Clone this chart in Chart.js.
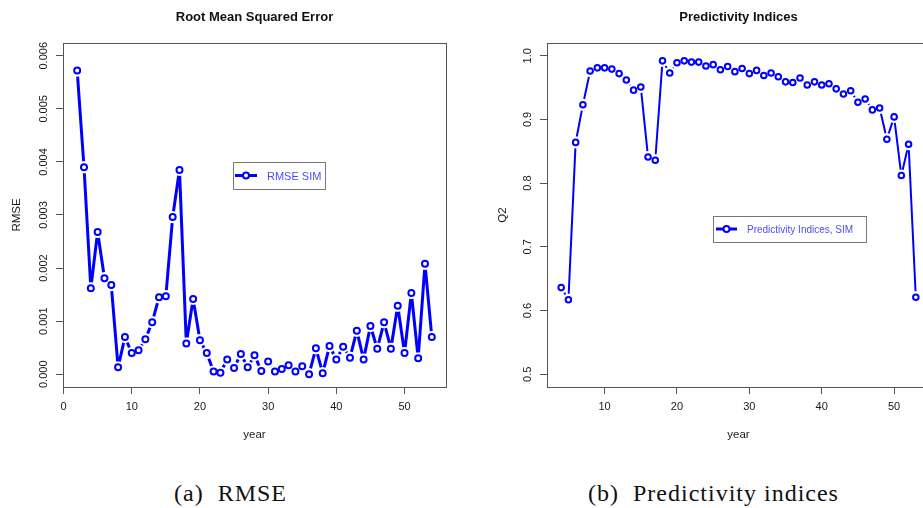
<!DOCTYPE html>
<html>
<head>
<meta charset="utf-8">
<script src="https://cdn.jsdelivr.net/npm/chart.js@4.4.0/dist/chart.umd.min.js"></script>
<style>
  html, body { margin: 0; padding: 0; background: #fff; overflow: hidden; }
  #wrap { position: relative; width: 923px; height: 508px; overflow: hidden; }
  canvas { position: absolute; top: 0; }
  #rmseChart { left: 0; }
  #q2Chart { left: 461px; }
  .cap {
    position: absolute;
    font-family: "Liberation Serif", serif;
    font-size: 24px;
    line-height: 24px;
    color: #111;
    letter-spacing: 1px;
    white-space: nowrap;
  }
</style>
</head>
<body>
<div id="wrap">
  <canvas id="rmseChart" width="461" height="450"></canvas>
  <canvas id="q2Chart" width="480" height="450"></canvas>
  <div class="cap" style="left:174px; top:481px;">(a)&nbsp;&nbsp;RMSE</div>
  <div class="cap" style="left:588px; top:481px;">(b)&nbsp;&nbsp;Predictivity indices</div>
</div>
<script>
// RMSE per year
const rmseYears = [2, 3, 4, 5, 6, 7, 8, 9, 10, 11, 12, 13, 14, 15, 16, 17, 18, 19, 20, 21,
  22, 23, 24, 25, 26, 27, 28, 29, 30, 31, 32, 33, 34, 35, 36, 37, 38, 39, 40, 41,
  42, 43, 44, 45, 46, 47, 48, 49, 50, 51, 52, 53, 54];
const rmseValues = [0.00572, 0.0039, 0.00162, 0.00268, 0.00181, 0.00168, 0.00013, 0.0007,
  0.0004, 0.00045, 0.00066, 0.00098, 0.00145, 0.00147, 0.00296, 0.00385, 0.00058, 0.00142,
  0.00064, 0.0004, 0.00005, 0.00003, 0.00028, 0.00012, 0.00038, 0.00013, 0.00036, 0.00006,
  0.00024, 0.00005, 0.0001, 0.00017, 0.00005, 0.00015, 0.0, 0.00049, 0.00002, 0.00053,
  0.00028, 0.00052, 0.00031, 0.00082, 0.00028, 0.00091, 0.00048, 0.00098, 0.00048, 0.00129,
  0.0004, 0.00153, 0.0003, 0.00208, 0.0007];
const rmseXTicks = [0, 10, 20, 30, 40, 50];
const rmseYTicks = [0, 0.001, 0.002, 0.003, 0.004, 0.005, 0.006];

// Q2 per year
const q2Years = [4, 5, 6, 7, 8, 9, 10, 11, 12, 13, 14, 15, 16, 17, 18, 19, 20, 21, 22, 23,
  24, 25, 26, 27, 28, 29, 30, 31, 32, 33, 34, 35, 36, 37, 38, 39, 40, 41, 42, 43,
  44, 45, 46, 47, 48, 49, 50, 51, 52, 53];
const q2Values = [0.636, 0.617, 0.864, 0.923, 0.976, 0.981, 0.981, 0.979, 0.972, 0.962,
  0.946, 0.951, 0.841, 0.836, 0.992, 0.973, 0.989, 0.992, 0.99, 0.99,
  0.984, 0.986, 0.978, 0.983, 0.975, 0.98, 0.972, 0.977, 0.969, 0.973,
  0.967, 0.959, 0.958, 0.965, 0.954, 0.959, 0.954, 0.956, 0.948, 0.94,
  0.945, 0.927, 0.932, 0.915, 0.918, 0.869, 0.904, 0.812, 0.861, 0.621];
const q2XTicks = [10, 20, 30, 40, 50];
const q2YTicks = [0.5, 0.6, 0.7, 0.8, 0.9, 1.0];

const BLUE = "#0000ff";
const AXIS = "#555";
const TEXT = "#1a1a1a";

Chart.defaults.font.family = "'Liberation Sans', Arial, sans-serif";
Chart.defaults.color = TEXT;

// R style type="b": line segments stop short of each point
const gapLine = {
  id: "gapLine",
  beforeDatasetDraw(chart, args, opts) {
    const pts = args.meta.data;
    const ctx = chart.ctx;
    ctx.save();
    ctx.strokeStyle = BLUE;
    ctx.lineWidth = opts.width;
    ctx.beginPath();
    for (let i = 1; i < pts.length; i++) {
      const a = pts[i - 1], b = pts[i];
      const dx = b.x - a.x, dy = b.y - a.y;
      const len = Math.hypot(dx, dy);
      if (len <= 2 * opts.gap) continue;
      const ux = dx / len, uy = dy / len;
      ctx.moveTo(a.x + ux * opts.gap, a.y + uy * opts.gap);
      ctx.lineTo(b.x - ux * opts.gap, b.y - uy * opts.gap);
    }
    ctx.stroke();
    ctx.restore();
  },
};

const boxPlot = {
  id: "boxPlot",
  afterDatasetsDraw(chart) {
    const { ctx, chartArea: a } = chart;
    ctx.save();
    ctx.strokeStyle = AXIS;
    ctx.lineWidth = 1;
    ctx.strokeRect(Math.round(a.left) + 0.5, Math.round(a.top) + 0.5,
      Math.round(a.right - a.left), Math.round(a.bottom - a.top));
    ctx.restore();
  },
};

const boxLegend = {
  id: "boxLegend",
  afterDraw(chart, args, o) {
    const ctx = chart.ctx;
    ctx.save();
    ctx.strokeStyle = "#777";
    ctx.lineWidth = 1;
    ctx.strokeRect(o.x + 0.5, o.y + 0.5, o.w, o.h);
    const cy = o.y + o.h / 2;
    ctx.strokeStyle = BLUE;
    ctx.lineWidth = o.lineWidth;
    ctx.beginPath();
    ctx.moveTo(o.x + o.lineFrom, cy);
    ctx.lineTo(o.x + o.lineTo, cy);
    ctx.stroke();
    ctx.lineWidth = 2;
    ctx.fillStyle = "#fff";
    ctx.beginPath();
    ctx.arc(o.x + (o.lineFrom + o.lineTo) / 2, cy, 3, 0, Math.PI * 2);
    ctx.fill();
    ctx.stroke();
    ctx.fillStyle = "#4d4dff";
    ctx.font = o.fontSize + "px 'Liberation Sans', Arial, sans-serif";
    ctx.textBaseline = "middle";
    ctx.fillText(o.text, o.x + o.textX, cy + 1);
    ctx.restore();
  },
};

function toPoints(xs, ys) {
  return xs.map((x, i) => ({ x: x, y: ys[i] }));
}

function makeChart(id, cfg) {
  return new Chart(document.getElementById(id), {
    type: "scatter",
    data: {
      datasets: [
        {
          data: toPoints(cfg.xs, cfg.ys),
          showLine: false,
          pointRadius: cfg.pointRadius,
          pointBorderWidth: 2,
          pointBorderColor: BLUE,
          pointBackgroundColor: "rgba(255,255,255,0)",
        },
      ],
    },
    options: {
      responsive: false,
      animation: false,
      events: [],
      layout: { padding: { left: cfg.padLeft, right: cfg.padRight, top: 0, bottom: 0 } },
      plugins: {
        legend: { display: false },
        tooltip: { enabled: false },
        title: {
          display: true,
          text: cfg.title,
          fullSize: false,
          color: "#111",
          font: { size: 13, weight: "bold" },
          padding: { top: 10, bottom: 17.4 },
        },
        gapLine: { width: cfg.lineWidth, gap: 6 },
        boxLegend: cfg.legend,
      },
      scales: {
        x: {
          type: "linear",
          min: cfg.xMin,
          max: cfg.xMax,
          afterBuildTicks: (s) => { s.ticks = cfg.xTicks.map((v) => ({ value: v })); },
          afterFit: (s) => { s.height = 63; },
          border: { display: false },
          grid: { drawOnChartArea: false, drawTicks: true, tickLength: 7, color: AXIS },
          ticks: { font: { size: 11 }, color: TEXT, padding: 6, maxRotation: 0, callback: (v) => String(v) },
          title: { display: true, text: "year", color: TEXT, font: { size: 11.5 }, padding: { top: 0, bottom: 8 } },
        },
        y: {
          type: "linear",
          min: cfg.yMin,
          max: cfg.yMax,
          afterBuildTicks: (s) => { s.ticks = cfg.yTicks.map((v) => ({ value: v })); },
          afterFit: (s) => { s.width = cfg.yWidth; },
          border: { display: false },
          grid: { drawOnChartArea: false, drawTicks: true, tickLength: 7, color: AXIS },
          ticks: {
            font: { size: 11 },
            color: TEXT,
            minRotation: 90,
            maxRotation: 90,
            crossAlign: "center",
            padding: cfg.yTickPad,
            callback: (v) => v.toFixed(cfg.yDigits),
          },
          title: { display: true, text: cfg.yTitle, color: TEXT, font: { size: 11.5 }, padding: { top: 4, bottom: 4 } },
        },
      },
    },
    plugins: [gapLine, boxPlot, boxLegend],
  });
}

makeChart("rmseChart", {
  xs: rmseYears,
  ys: rmseValues,
  title: "Root Mean Squared Error",
  yTitle: "RMSE",
  xMin: -0.08, xMax: 56.08,
  yMin: -0.00024, yMax: 0.00624,
  xTicks: rmseXTicks,
  yTicks: rmseYTicks,
  yDigits: 3,
  yWidth: 57,
  yTickPad: -2,
  padLeft: 6,
  padRight: 15,
  pointRadius: 3,
  lineWidth: 3,
  legend: { x: 233, y: 162, w: 92, h: 27, lineFrom: 2, lineTo: 24, lineWidth: 3, textX: 34, fontSize: 11, text: "RMSE SIM" },
});

makeChart("q2Chart", {
  xs: q2Years,
  ys: q2Values,
  title: "Predictivity Indices",
  yTitle: "Q2",
  xMin: 2.04, xMax: 54.96,
  yMin: 0.48, yMax: 1.02,
  xTicks: q2XTicks,
  yTicks: q2YTicks,
  yDigits: 1,
  yWidth: 55,
  yTickPad: 4,
  padLeft: 31,
  padRight: 11,
  pointRadius: 2.8,
  lineWidth: 2,
  legend: { x: 252, y: 216, w: 153, h: 26, lineFrom: 3, lineTo: 24, lineWidth: 3, textX: 34, fontSize: 10, text: "Predictivity Indices, SIM" },
});
</script>
</body>
</html>
